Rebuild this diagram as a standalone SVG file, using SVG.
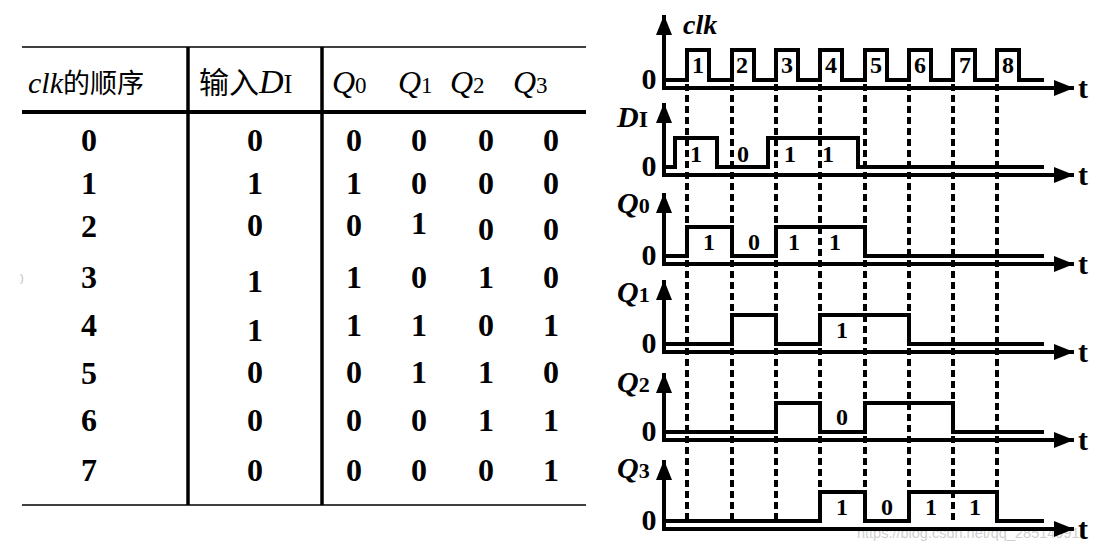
<svg xmlns="http://www.w3.org/2000/svg" width="1107" height="550" viewBox="0 0 1107 550">
<style>
.bg{fill:#fff}
.thin{stroke:#000;stroke-width:1.5;fill:none}
.thick{stroke:#000;stroke-width:4;fill:none}
.vl{stroke:#000;stroke-width:3.5;fill:none}
.sf{font-family:'Liberation Serif','Times New Roman','DejaVu Serif','Noto Serif',serif}
.d{font-weight:bold;font-size:32px;text-anchor:middle;fill:#000}
.hd{fill:#000}
.cjk{font-family:'Noto Sans CJK SC',sans-serif}
.it{font-style:italic}
.ax{stroke:#000;stroke-width:4;fill:none;marker-end:url(#arr)}
.wv{stroke:#000;stroke-width:4;fill:none;stroke-linejoin:miter;stroke-linecap:square}
.dash{stroke:#000;stroke-width:4;fill:none;stroke-dasharray:7 4}
.lb{font-weight:bold;fill:#000}
.n{font-weight:bold;font-size:24px;text-anchor:middle;fill:#000}
.z{font-weight:bold;font-size:30px;text-anchor:middle;fill:#000}
.t{font-weight:bold;font-size:30px;text-anchor:middle;fill:#000}
</style>
<defs>
<marker id="arr" markerUnits="userSpaceOnUse" markerWidth="22" markerHeight="18" refX="20" refY="8" orient="auto">
<path d="M0,0 L20,8 L0,16 Z" fill="#000"/>
</marker>
</defs>
<rect class="bg" x="0" y="0" width="1107" height="550"/>

<g id="table" font-family="Liberation Serif, Times New Roman, DejaVu Serif, serif">
<line class="thin" x1="22" y1="47" x2="586" y2="47"/>
<line class="thick" x1="22" y1="112" x2="586" y2="112"/>
<line class="thin" x1="22" y1="505" x2="586" y2="505"/>
<line class="vl" x1="188" y1="47" x2="188" y2="505"/>
<line class="vl" x1="322" y1="47" x2="322" y2="505"/>
<text class="hd sf" x="28" y="93"><tspan class="it" font-size="30">clk</tspan><tspan class="cjk" font-size="27">的顺序</tspan></text>
<text class="hd sf" x="199" y="93"><tspan class="cjk" font-size="30">输入</tspan><tspan class="it" font-size="34">D</tspan><tspan font-size="27">I</tspan></text>
<text class="hd sf" x="332" y="93"><tspan class="it" font-size="32">Q</tspan><tspan font-size="23">0</tspan></text>
<text class="hd sf" x="398" y="93"><tspan class="it" font-size="32">Q</tspan><tspan font-size="23">1</tspan></text>
<text class="hd sf" x="450" y="93"><tspan class="it" font-size="32">Q</tspan><tspan font-size="23">2</tspan></text>
<text class="hd sf" x="513" y="93"><tspan class="it" font-size="32">Q</tspan><tspan font-size="23">3</tspan></text>
<g id="row0" class="sf"><text class="d" x="89" y="151">0</text><text class="d" x="255" y="151">0</text><text class="d" x="354" y="151">0</text><text class="d" x="419" y="151">0</text><text class="d" x="486" y="151">0</text><text class="d" x="551" y="151">0</text></g>
<g id="row1" class="sf"><text class="d" x="89" y="194">1</text><text class="d" x="255" y="194">1</text><text class="d" x="354" y="194">1</text><text class="d" x="419" y="194">0</text><text class="d" x="486" y="194">0</text><text class="d" x="551" y="194">0</text></g>
<g id="row2" class="sf"><text class="d" x="89" y="237">2</text><text class="d" x="255" y="236">0</text><text class="d" x="354" y="236">0</text><text class="d" x="419" y="234">1</text><text class="d" x="486" y="240">0</text><text class="d" x="551" y="240">0</text></g>
<g id="row3" class="sf"><text class="d" x="89" y="288">3</text><text class="d" x="255" y="292">1</text><text class="d" x="354" y="288">1</text><text class="d" x="419" y="288">0</text><text class="d" x="486" y="288">1</text><text class="d" x="551" y="288">0</text></g>
<g id="row4" class="sf"><text class="d" x="89" y="336">4</text><text class="d" x="255" y="341">1</text><text class="d" x="354" y="336">1</text><text class="d" x="419" y="336">1</text><text class="d" x="486" y="336">0</text><text class="d" x="551" y="336">1</text></g>
<g id="row5" class="sf"><text class="d" x="89" y="384">5</text><text class="d" x="255" y="383">0</text><text class="d" x="354" y="383">0</text><text class="d" x="419" y="383">1</text><text class="d" x="486" y="383">1</text><text class="d" x="551" y="383">0</text></g>
<g id="row6" class="sf"><text class="d" x="89" y="431">6</text><text class="d" x="255" y="431">0</text><text class="d" x="354" y="431">0</text><text class="d" x="419" y="431">0</text><text class="d" x="486" y="431">1</text><text class="d" x="551" y="431">1</text></g>
<g id="row7" class="sf"><text class="d" x="89" y="481">7</text><text class="d" x="255" y="481">0</text><text class="d" x="354" y="481">0</text><text class="d" x="419" y="481">0</text><text class="d" x="486" y="481">0</text><text class="d" x="551" y="481">1</text></g>
</g>
<text x="20" y="282" font-family="Liberation Sans,sans-serif" font-size="11" fill="#bbb">)</text>

<text x="857" y="538" font-family="Liberation Sans,sans-serif" font-size="14.5" fill="#cfcfcf">https://blog.csdn.net/qq_28514991</text>

<g id="connectors">
<line class="dash" x1="687" y1="84" x2="687" y2="522"/>
<line class="dash" x1="732" y1="84" x2="732" y2="522"/>
<line class="dash" x1="776" y1="84" x2="776" y2="522"/>
<line class="dash" x1="820" y1="84" x2="820" y2="522"/>
<line class="dash" x1="865" y1="84" x2="865" y2="522"/>
<line class="dash" x1="909" y1="84" x2="909" y2="522"/>
<line class="dash" x1="953" y1="84" x2="953" y2="522"/>
<line class="dash" x1="997" y1="84" x2="997" y2="522"/>
</g>

<g id="clk" class="sf">
<line class="ax" x1="664" y1="90" x2="664" y2="15"/>
<line class="ax" x1="662" y1="88" x2="1074" y2="88"/>
<path class="wv" d="M667,80 H687 V50 H709 V80 H732 V50 H754 V80 H776 V50 H798 V80 H820 V50 H842 V80 H865 V50 H887 V80 H909 V50 H931 V80 H953 V50 H975 V80 H997 V50 H1019 V80 H1042"/>
<text class="lb it" x="683" y="34" font-size="28">clk</text>
<text class="z" x="649" y="89">0</text>
<text class="t" x="1083" y="98">t</text>
<text class="n" x="698" y="73" font-size="26">1</text>
<text class="n" x="742" y="73" font-size="26">2</text>
<text class="n" x="787" y="73" font-size="26">3</text>
<text class="n" x="831" y="73" font-size="26">4</text>
<text class="n" x="876" y="73" font-size="26">5</text>
<text class="n" x="920" y="73" font-size="26">6</text>
<text class="n" x="965" y="73" font-size="26">7</text>
<text class="n" x="1008" y="73" font-size="26">8</text>
</g>

<g id="DI" class="sf">
<line class="ax" x1="664" y1="177" x2="664" y2="103"/>
<line class="ax" x1="662" y1="175" x2="1074" y2="175"/>
<path class="wv" d="M667,167 H675 V138 H717 V167 H768 V138 H858 V167 H1042"/>
<text class="lb" x="617" y="127"><tspan class="it" font-size="30">D</tspan><tspan font-size="24">I</tspan></text>
<text class="z" x="649" y="176">0</text>
<text class="t" x="1083" y="185">t</text>
<text class="n" x="696" y="162" font-size="23">1</text>
<text class="n" x="743" y="162" font-size="19">0</text>
<text class="n" x="790" y="162" font-size="23">1</text>
<text class="n" x="828" y="162" font-size="23">1</text>
</g>

<g id="Q0" class="sf">
<line class="ax" x1="664" y1="266" x2="664" y2="193"/>
<line class="ax" x1="662" y1="264" x2="1074" y2="264"/>
<path class="wv" d="M667,256 H687 V227 H732 V256 H776 V227 H865 V256 H1042"/>
<text class="lb" x="617" y="213"><tspan class="it" font-size="30">Q</tspan><tspan font-size="22">0</tspan></text>
<text class="z" x="649" y="265">0</text>
<text class="t" x="1083" y="274">t</text>
<text class="n" x="709" y="250">1</text>
<text class="n" x="754" y="250" font-size="20">0</text>
<text class="n" x="794" y="250">1</text>
<text class="n" x="835" y="250">1</text>
</g>

<g id="Q1" class="sf">
<line class="ax" x1="664" y1="354" x2="664" y2="280"/>
<line class="ax" x1="662" y1="352" x2="1074" y2="352"/>
<path class="wv" d="M667,344 H732 V315 H776 V344 H820 V315 H909 V344 H1042"/>
<text class="lb" x="617" y="302"><tspan class="it" font-size="30">Q</tspan><tspan font-size="22">1</tspan></text>
<text class="z" x="649" y="353">0</text>
<text class="t" x="1083" y="362">t</text>
<text class="n" x="842" y="338" font-size="22">1</text>
</g>

<g id="Q2" class="sf">
<line class="ax" x1="664" y1="442" x2="664" y2="373"/>
<line class="ax" x1="662" y1="440" x2="1074" y2="440"/>
<path class="wv" d="M667,432 H776 V403 H820 V432 H865 V403 H953 V432 H1042"/>
<text class="lb" x="617" y="392"><tspan class="it" font-size="30">Q</tspan><tspan font-size="22">2</tspan></text>
<text class="z" x="649" y="441">0</text>
<text class="t" x="1083" y="450">t</text>
<text class="n" x="842" y="425" font-size="21">0</text>
</g>

<g id="Q3" class="sf">
<line class="ax" x1="664" y1="531" x2="664" y2="460"/>
<line class="ax" x1="662" y1="529" x2="1074" y2="529"/>
<path class="wv" d="M667,521 H820 V492 H865 V521 H909 V492 H997 V521 H1042"/>
<text class="lb" x="617" y="478"><tspan class="it" font-size="30">Q</tspan><tspan font-size="22">3</tspan></text>
<text class="z" x="649" y="530">0</text>
<text class="t" x="1083" y="539">t</text>
<text class="n" x="842" y="515" font-size="22">1</text>
<text class="n" x="887" y="515" font-size="22">0</text>
<text class="n" x="931" y="515" font-size="22">1</text>
<text class="n" x="975" y="515" font-size="22">1</text>
</g>
</svg>
